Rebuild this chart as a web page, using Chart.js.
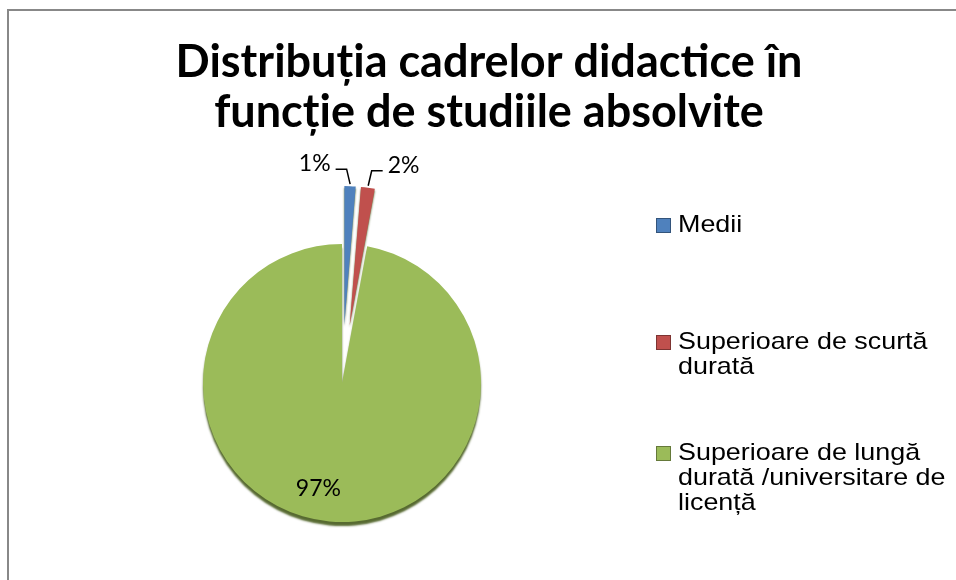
<!DOCTYPE html>
<html>
<head>
<meta charset="utf-8">
<script src="https://cdn.jsdelivr.net/npm/chart.js@4.4.1/dist/chart.umd.min.js"></script>
<style>
  body { margin: 0; background: #fff; }
  #wrap { width: 956px; height: 580px; }
</style>
</head>
<body>
<div id="wrap"><canvas id="pieChart" width="956" height="580"></canvas></div>
<script>
// data
const chartTitle = ["Distribuția cadrelor didactice în", "funcție de studiile absolvite"];
const categories = ["Medii", "Superioare de scurtă durată", "Superioare de lungă durată /universitare de licență"];
const shares = [1.3, 1.6, 97.1];

// looks
const sliceColors = ["#4F81BD", "#C0504D", "#9BBB59"];
const explode = [58, 58, 0];
const legendTops = [215, 332, 443];
const textStretch = 1.12;

function stretchedText(ctx, text, x, y, align) {
  const w = ctx.measureText(text).width * textStretch;
  let left = x;
  if (align === "right") left = x - w;
  if (align === "center") left = x - w / 2;
  ctx.save();
  ctx.translate(left, y);
  ctx.scale(textStretch, 1);
  ctx.textAlign = "left";
  ctx.fillText(text, 0, 0);
  ctx.restore();
}

function wrapWords(ctx, text, maxWidth) {
  const words = text.split(" ");
  const lines = [];
  let line = "";
  words.forEach(word => {
    const test = line ? line + " " + word : word;
    if (line && ctx.measureText(test).width * textStretch > maxWidth) {
      lines.push(line);
      line = word;
    } else {
      line = test;
    }
  });
  if (line) lines.push(line);
  return lines;
}

const frameAndTitle = {
  id: "frameAndTitle",
  beforeDraw(chart) {
    const ctx = chart.ctx;
    ctx.save();
    ctx.fillStyle = "#fff";
    ctx.fillRect(0, 0, chart.width, chart.height);
    ctx.strokeStyle = "#888";
    ctx.lineWidth = 2;
    ctx.strokeRect(8, 10, chart.width + 40, chart.height + 40);
    ctx.fillStyle = "#000";
    ctx.font = "bold 45px Lato";
    ctx.textAlign = "center";
    ctx.textBaseline = "alphabetic";
    ctx.fillText(chartTitle[0], 489, 77);
    ctx.fillText(chartTitle[1], 489, 127);
    ctx.restore();
  }
};

const explodedSlices = {
  id: "explodedSlices",
  beforeDatasetDraw(chart, args) {
    const ctx = chart.ctx;
    args.meta.data.forEach((arc, i) => {
      const mid = (arc.startAngle + arc.endAngle) / 2;
      ctx.save();
      ctx.translate(Math.cos(mid) * explode[i], Math.sin(mid) * explode[i]);
      ctx.shadowColor = "rgba(78, 98, 38, 0.95)";
      ctx.shadowOffsetY = i === 2 ? 4 : 2;
      ctx.shadowBlur = 2;
      arc.draw(ctx);
      ctx.restore();
    });
    return false;
  }
};

const sliceLabels = {
  id: "sliceLabels",
  afterDatasetsDraw(chart) {
    const ctx = chart.ctx;
    const meta = chart.getDatasetMeta(0);
    const total = shares.reduce((a, b) => a + b, 0);
    ctx.save();
    ctx.font = "23px Lato";
    ctx.fillStyle = "#000";
    ctx.strokeStyle = "#000";
    ctx.lineWidth = 1.5;
    ctx.textBaseline = "alphabetic";
    meta.data.forEach((arc, i) => {
      const pct = Math.round(shares[i] / total * 100) + "%";
      const mid = (arc.startAngle + arc.endAngle) / 2;
      const cx = arc.x + Math.cos(mid) * explode[i];
      const cy = arc.y + Math.sin(mid) * explode[i];
      const r = arc.outerRadius;
      if (shares[i] / total < 0.05) {
        const ax = cx + Math.cos(mid) * (r + 2);
        const ay = cy + Math.sin(mid) * (r + 2);
        const dir = i % 2 === 0 ? -1 : 1;
        const ex = ax + dir * 3.5;
        const ey = ay - 15;
        const hx = ex + dir * 11;
        ctx.beginPath();
        ctx.moveTo(ax, ay);
        ctx.lineTo(ex, ey);
        ctx.lineTo(hx, ey);
        ctx.stroke();
        ctx.textAlign = dir < 0 ? "right" : "left";
        ctx.fillText(pct, hx + dir * 5, ey + 2);
      } else {
        ctx.textAlign = "center";
        ctx.textBaseline = "middle";
        const lx = cx + Math.cos(mid) * r * 0.76 - 14;
        const ly = cy + Math.sin(mid) * r * 0.76;
        ctx.fillText(pct, lx, ly);
        ctx.textBaseline = "alphabetic";
      }
    });
    ctx.restore();
  }
};

const sideLegend = {
  id: "sideLegend",
  afterDraw(chart) {
    const ctx = chart.ctx;
    ctx.save();
    ctx.font = "24px 'Liberation Sans'";
    ctx.textBaseline = "alphabetic";
    categories.forEach((name, i) => {
      const top = legendTops[i];
      ctx.fillStyle = sliceColors[i];
      ctx.fillRect(656, top + 3, 15, 15);
      ctx.strokeStyle = "rgba(0,0,0,0.35)";
      ctx.lineWidth = 1;
      ctx.strokeRect(656.5, top + 3.5, 14, 14);
      ctx.fillStyle = "#000";
      wrapWords(ctx, name, 280).forEach((line, k) => {
        stretchedText(ctx, line, 678, top + 17 + k * 25, "left");
      });
    });
    ctx.restore();
  }
};

new Chart(document.getElementById("pieChart"), {
  type: "pie",
  data: {
    labels: categories,
    datasets: [{
      data: shares,
      backgroundColor: sliceColors,
      borderWidth: 0,
      radius: 139
    }]
  },
  options: {
    responsive: false,
    animation: false,
    layout: { padding: { left: 202, right: 474, top: 244, bottom: 58 } },
    plugins: {
      legend: { display: false },
      title: { display: false },
      tooltip: { enabled: false }
    }
  },
  plugins: [frameAndTitle, explodedSlices, sliceLabels, sideLegend]
});
</script>
</body>
</html>
